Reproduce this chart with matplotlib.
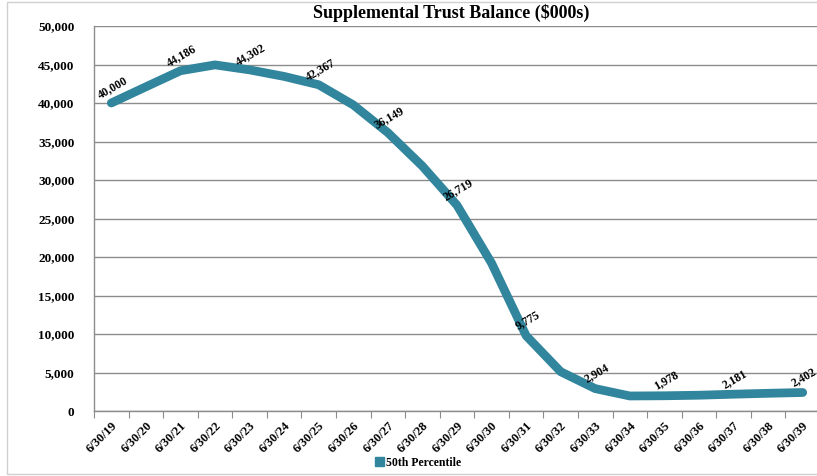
import matplotlib
matplotlib.use("Agg")
import matplotlib.pyplot as plt
from matplotlib.patches import Patch, Rectangle

years = ["6/30/19", "6/30/20", "6/30/21", "6/30/22", "6/30/23", "6/30/24", "6/30/25",
         "6/30/26", "6/30/27", "6/30/28", "6/30/29", "6/30/30", "6/30/31", "6/30/32",
         "6/30/33", "6/30/34", "6/30/35", "6/30/36", "6/30/37", "6/30/38", "6/30/39"]
balance = [40000, 42100, 44186, 44950, 44302, 43450, 42367, 39750, 36149, 31800,
           26719, 19200, 9775, 5100, 2904, 1950, 1978, 2050, 2181, 2300, 2402]
label_every = 2
yticks = [0, 5000, 10000, 15000, 20000, 25000, 30000, 35000, 40000, 45000, 50000]

serif = ["Liberation Serif", "DejaVu Serif"]
teal = "#31859C"

fig = plt.figure(figsize=(8.17, 4.76), dpi=100)
ax = fig.add_axes([94/817, 1 - 411/476, 726/817, 385/476])

x = list(range(len(years)))
ax.plot(x, balance, color=teal, lw=6.3, solid_capstyle="round", solid_joinstyle="round", zorder=3)

for i in range(0, len(years), label_every):
    ax.annotate(f"{balance[i]:,}", (x[i], balance[i]), xytext=(1, 11), textcoords="offset points",
                ha="center", va="center", rotation=30, fontsize=8.5, fontweight="bold",
                family=serif, color="black", zorder=4)

ax.set_xlim(-0.5, len(years) - 0.5)
ax.set_ylim(0, 50000)
ax.set_yticks(yticks)
ax.set_yticklabels([f"{v:,}" for v in yticks], family=serif, fontweight="bold", fontsize=9.5)
ax.tick_params(axis="y", length=0, pad=14)
ax.grid(axis="y", color="#8c8c8c", lw=1)
ax.set_axisbelow(True)

ax.set_xticks([i - 0.5 for i in range(len(years) + 1)], minor=False)
ax.set_xticklabels([])
ax.tick_params(axis="x", which="major", length=5, color="#8c8c8c", direction="out")
ax.set_xticks(x, minor=True)
ax.set_xticklabels(years, minor=True, rotation=45, ha="right", rotation_mode="anchor",
                   family=serif, fontweight="bold", fontsize=9)
ax.tick_params(axis="x", which="minor", length=0, pad=6)

for s in ["top", "right"]:
    ax.spines[s].set_visible(False)
for s in ["left", "bottom"]:
    ax.spines[s].set_color("#8c8c8c")
    ax.spines[s].set_linewidth(1)

fig.text(451/817, 1 - 13/476, "Supplemental Trust Balance ($000s)", ha="center", va="center",
         family=serif, fontweight="bold", fontsize=13)

fig.legend(handles=[Patch(facecolor=teal, edgecolor=teal, label="50th Percentile")],
           loc="center", bbox_to_anchor=(418/817, 1 - 463/476), frameon=False,
           prop={"family": serif, "weight": "bold", "size": 8.5},
           handlelength=0.8, handleheight=0.8, handletextpad=0.2)

fig.patches.append(Rectangle((7/817, 2/476), 1.0, 1 - 4/476, transform=fig.transFigure,
                             fill=False, edgecolor="#d0d0d0", lw=1))

fig.savefig("out.png", dpi=100)
